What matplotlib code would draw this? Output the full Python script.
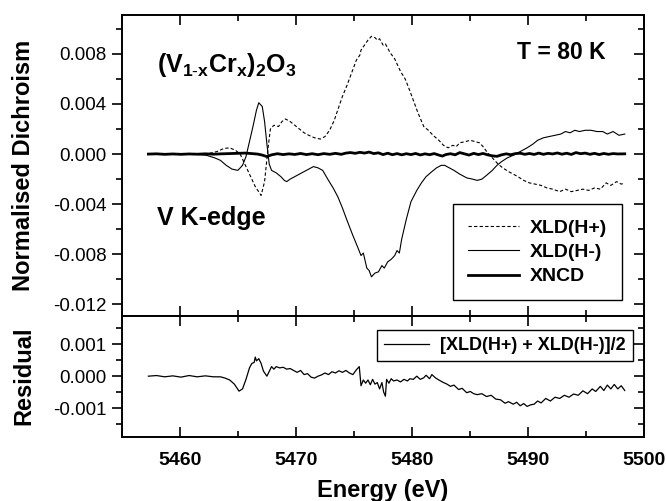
import numpy as np
import matplotlib
matplotlib.use('Agg')
import matplotlib.pyplot as plt
from matplotlib.ticker import FixedLocator, MultipleLocator, FormatStrFormatter

plt.rcParams['font.family'] = 'Liberation Sans'
plt.rcParams['mathtext.fontset'] = 'custom'
plt.rcParams['mathtext.rm'] = 'Liberation Sans'
plt.rcParams['mathtext.bf'] = 'Liberation Sans:bold'

# XLD(H+)  (energy in eV, normalised dichroism)
xldp_e = [5457.3, 5458.5, 5459.5, 5460.5, 5461.5, 5462.5, 5463.2, 5463.8, 5464.3, 5464.8,
          5465.2, 5465.6, 5466.0, 5466.5, 5467.0, 5467.3, 5467.6, 5467.8, 5468.1, 5468.5,
          5468.8, 5469.1, 5469.5, 5469.9, 5470.3, 5470.7, 5471.1, 5471.6, 5472.1, 5472.5,
          5472.9, 5473.3, 5473.7, 5474.0, 5474.4, 5474.8, 5475.2, 5475.5, 5475.6, 5475.9,
          5476.2, 5476.5, 5476.8, 5477.0, 5477.2, 5477.5, 5477.7, 5478.1, 5478.5, 5479.0,
          5479.4, 5479.7, 5480.1, 5480.5, 5481.0, 5481.4, 5481.8, 5482.3, 5482.7, 5483.1,
          5483.5, 5483.8, 5484.1, 5484.6, 5485.0, 5485.4, 5485.8, 5486.1, 5486.5, 5487.0,
          5487.4, 5487.8, 5488.3, 5488.7, 5489.1, 5489.6, 5490.1, 5490.6, 5491.1, 5491.6,
          5492.1, 5492.7, 5493.2, 5493.7, 5494.2, 5494.7, 5495.2, 5495.7, 5496.2, 5496.7,
          5497.1, 5497.6, 5498.0, 5498.3]
xldp_v = [0.0, 0.00002, -0.00002, 0.00002, 0.0, 0.00005, 0.0002, 0.00045, 0.0005, 0.0003,
          0.0, -0.0008, -0.0016, -0.0026, -0.0033, -0.0022, 0.0005, 0.0020, 0.0023, 0.0022,
          0.0026, 0.0028, 0.0026, 0.0023, 0.0020, 0.0017, 0.0015, 0.0013, 0.0012, 0.0014,
          0.0019, 0.0027, 0.0038, 0.0046, 0.0055, 0.0065, 0.0075, 0.0079, 0.0083, 0.0087,
          0.0091, 0.0094, 0.0093, 0.0091, 0.0092, 0.0087, 0.0088, 0.0081, 0.0076, 0.0066,
          0.0060, 0.0053, 0.0043, 0.0033, 0.0022, 0.0019, 0.0015, 0.0011, 0.0007, 0.0005,
          0.0007, 0.0006, 0.0009, 0.0010, 0.0011, 0.0010, 0.0009, 0.0006, 0.0001, -0.0004,
          -0.0008, -0.0011, -0.0014, -0.0016, -0.0018, -0.0021, -0.0023, -0.0024, -0.0025, -0.0027,
          -0.0028, -0.0030, -0.0028, -0.0030, -0.0029, -0.0028, -0.0029, -0.0027, -0.0028, -0.0023,
          -0.0025, -0.0022, -0.0024, -0.0023]

# XLD(H-)
xldm_e = [5457.3, 5458.5, 5459.5, 5460.5, 5461.5, 5462.3, 5463.0, 5463.5, 5464.0, 5464.5,
          5465.0, 5465.4, 5465.7, 5466.0, 5466.3, 5466.6, 5466.8, 5467.1, 5467.3, 5467.5,
          5467.7, 5467.9, 5468.3, 5468.7, 5469.0, 5469.2, 5469.5, 5469.9, 5470.3, 5470.7,
          5471.1, 5471.5, 5471.9, 5472.3, 5472.8, 5473.2, 5473.6, 5474.0, 5474.4, 5474.9,
          5475.3, 5475.6, 5475.8, 5476.1, 5476.3, 5476.5, 5476.8, 5477.1, 5477.4, 5477.6,
          5477.9, 5478.2, 5478.5, 5478.7, 5478.9, 5479.1, 5479.5, 5479.9, 5480.4, 5480.8,
          5481.2, 5481.7, 5482.1, 5482.5, 5482.8, 5483.2, 5483.6, 5484.1, 5484.7, 5485.2,
          5485.6, 5486.0, 5486.4, 5486.9, 5487.3, 5487.7, 5488.2, 5488.7, 5489.3, 5489.9,
          5490.4, 5490.8, 5491.3, 5491.8, 5492.3, 5492.8, 5493.2, 5493.6, 5494.0, 5494.4,
          5494.9, 5495.4, 5495.9, 5496.4, 5496.8, 5497.3, 5497.8, 5498.3]
xldm_v = [0.0, -0.00002, 0.00002, -0.00001, -0.00003, -0.0001, -0.0003, -0.0005, -0.0009, -0.0012,
          -0.0013, -0.0009, -0.0002, 0.0010, 0.0022, 0.0035, 0.0041, 0.0038, 0.0026, 0.0008,
          -0.0008, -0.0013, -0.0015, -0.0018, -0.0021, -0.0022, -0.0020, -0.0018, -0.0016, -0.0014,
          -0.0012, -0.0010, -0.0011, -0.0013, -0.0021, -0.0027, -0.0034, -0.0043, -0.0053, -0.0065,
          -0.0074, -0.0081, -0.0079, -0.0091, -0.0093, -0.0098, -0.0095, -0.0094, -0.0089, -0.0091,
          -0.0086, -0.0084, -0.0081, -0.0077, -0.0079, -0.0068, -0.0052, -0.0038, -0.0029, -0.0023,
          -0.0018, -0.0014, -0.0011, -0.0009, -0.0009, -0.0011, -0.0013, -0.0016, -0.0019, -0.0020,
          -0.0021, -0.0020, -0.0017, -0.0013, -0.0009, -0.0006, -0.0003, -0.0001, 0.0002, 0.0005,
          0.0008, 0.0011, 0.0013, 0.0014, 0.0015, 0.0016, 0.0018, 0.0017, 0.0019, 0.0018,
          0.0019, 0.0019, 0.0018, 0.0018, 0.0016, 0.0018, 0.0015, 0.0016]

# XNCD
xncd_e = [5457.3, 5458.0, 5458.7, 5459.4, 5460.1, 5460.8, 5461.5, 5462.2, 5462.9, 5463.6,
          5464.3, 5465.0, 5465.6, 5466.2, 5466.7, 5467.1, 5467.5, 5467.9, 5468.4, 5468.9,
          5469.4, 5469.9, 5470.4, 5470.9, 5471.4, 5471.9, 5472.4, 5472.9, 5473.4, 5473.9,
          5474.3, 5474.7, 5475.1, 5475.5, 5475.9, 5476.3, 5476.7, 5477.1, 5477.5, 5477.9,
          5478.3, 5478.7, 5479.1, 5479.5, 5479.9, 5480.3, 5480.7, 5481.1, 5481.5, 5481.9,
          5482.3, 5482.6, 5482.9, 5483.3, 5483.7, 5484.1, 5484.5, 5484.9, 5485.3, 5485.7,
          5486.1, 5486.5, 5486.9, 5487.3, 5487.7, 5488.1, 5488.5, 5488.9, 5489.3, 5489.7,
          5490.1, 5490.5, 5490.9, 5491.3, 5491.7, 5492.1, 5492.5, 5492.9, 5493.3, 5493.7,
          5494.1, 5494.5, 5494.9, 5495.3, 5495.7, 5496.1, 5496.5, 5496.9, 5497.3, 5497.7,
          5498.3]
xncd_v = [0.0, 0.00002, -0.00002, 0.00001, -0.00002, 0.00001, -0.00001, 0.00002, -0.00001, 0.00002,
          0.00004, 0.00006, 0.00008, 0.00004, 0.0, -0.00008, -0.0002, -0.00006, 0.00003, -0.00004,
          0.00002, -0.00003, 0.00005, -0.00004, 0.00003, -0.00005, 0.00004, -0.00002, 0.00006, -0.00002,
          0.00008, 0.00012, 0.00006, 0.00014, 0.00008, 0.00016, 0.00004, 0.0001, -0.00004, 0.00007,
          -0.00005, 0.00004, -0.00006, 0.00003, -0.00004, 0.00005, -0.00007, 0.00002, -0.00005, 0.00004,
          -0.00008, -0.00016, -0.00004, 0.00003, -0.00006, 0.00012, 0.00002, -0.00008, 0.00006, -0.00004,
          0.00005, -0.00006, -0.00014, -0.00018, -0.00006, 0.00002, -0.00005, 0.00004, 0.00007, -0.00002,
          0.00005, -0.00003, 0.00008, -0.00002, 0.00006, 0.00001, 0.00009, -0.00001, 0.00007, -0.00003,
          0.00012, 0.00003, 0.00008, -0.00002, 0.00006, -0.00004, 0.00005, -0.00002, 0.00004, 0.00001,
          0.00002]

# residual [XLD(H+) + XLD(H-)]/2
res_e = [5457.3, 5458.0, 5458.7, 5459.4, 5460.1, 5460.8, 5461.5, 5462.2, 5462.9, 5463.5,
         5463.9, 5464.3, 5464.7, 5465.1, 5465.4, 5465.7, 5466.0, 5466.2, 5466.4, 5466.5,
         5466.6, 5466.8, 5467.0, 5467.2, 5467.5, 5467.7, 5467.9, 5468.1, 5468.3, 5468.6,
         5468.9, 5469.2, 5469.5, 5469.8, 5470.1, 5470.4, 5470.7, 5471.0, 5471.3, 5471.6,
         5471.9, 5472.2, 5472.5, 5472.8, 5473.1, 5473.4, 5473.7, 5474.0, 5474.3, 5474.6,
         5474.9, 5475.2, 5475.45, 5475.6, 5475.8, 5476.0, 5476.2, 5476.4, 5476.6, 5476.8,
         5477.0, 5477.2, 5477.4, 5477.55, 5477.7, 5477.8, 5478.0, 5478.2, 5478.4, 5478.7,
         5479.0, 5479.3, 5479.6, 5479.8, 5480.1, 5480.4, 5480.7, 5481.0, 5481.2, 5481.5,
         5481.7, 5482.0, 5482.3, 5482.7, 5483.0, 5483.3, 5483.6, 5484.0, 5484.3, 5484.7,
         5485.0, 5485.3, 5485.6, 5486.0, 5486.4, 5486.8, 5487.2, 5487.6, 5488.0, 5488.3,
         5488.7, 5489.0, 5489.3, 5489.6, 5489.9, 5490.2, 5490.5, 5490.8, 5491.1, 5491.5,
         5491.9, 5492.3, 5492.7, 5493.1, 5493.5, 5493.9, 5494.3, 5494.7, 5495.1, 5495.5,
         5495.8, 5496.2, 5496.5, 5496.8, 5497.1, 5497.4, 5497.7, 5498.0, 5498.3]
res_v = [0.0, 0.00002, -0.00002, 0.00001, -0.00003, 0.00002, -0.00002, 0.00001, -0.00002, -0.00002,
         -0.00006, -0.00012, -0.00025, -0.00047, -0.0004, -0.0001, 0.00026, 0.0004, 0.00043, 0.0006,
         0.00048, 0.00055, 0.0004, 0.00016, 0.0, 0.00015, 0.0003, 0.00022, 0.0003, 0.00026,
         0.00028, 0.00022, 0.00024, 0.00018, 0.00012, 0.00018, 0.00005, 0.00008, -0.00003, -0.00006,
         0.0, 0.00004, 0.0001, 0.00005, 0.00014, 0.0001, 0.00017, 0.00012, 0.00018, 0.0001,
         0.00005, 0.0002, 0.0003, -0.0003, -0.00012, -0.00022, -0.00012, -0.00027, -0.0001, -0.00025,
         -0.0002, -0.0004, -0.0002, -0.0005, -0.00063, -0.0001, -0.00022, -0.00008, -0.00015, -0.00012,
         -0.00018, -0.0001, -0.00015, -0.00008, -0.0001, 0.0, -0.0001, -0.00005, 0.00003, -0.00008,
         0.00005, -0.00005, -0.00012, -0.0002, -0.00025, -0.00032, -0.00028, -0.00042, -0.00038, -0.00052,
         -0.00048, -0.00055, -0.00058, -0.00055, -0.00064, -0.0006, -0.00072, -0.00074, -0.00085, -0.0008,
         -0.00088, -0.00082, -0.00093, -0.00086, -0.00095, -0.0009, -0.00088, -0.00078, -0.00084, -0.0007,
         -0.00078, -0.00066, -0.0007, -0.0006, -0.00066, -0.00056, -0.0006, -0.00046, -0.00055, -0.0004,
         -0.00048, -0.00032, -0.00045, -0.00028, -0.0004, -0.00026, -0.0004, -0.0003, -0.00045]

x_ticks = [5460, 5470, 5480, 5490, 5500]
top_yticks = [-0.012, -0.008, -0.004, 0.0, 0.004, 0.008]
res_yticks = [-0.001, 0.0, 0.001]


def style_axis(ax, yticks, yminor, yfmt):
    ax.set_xlim(5455, 5500)
    ax.xaxis.set_major_locator(FixedLocator(x_ticks))
    ax.xaxis.set_minor_locator(MultipleLocator(5))
    ax.yaxis.set_major_locator(FixedLocator(yticks))
    ax.yaxis.set_minor_locator(MultipleLocator(yminor))
    ax.yaxis.set_major_formatter(FormatStrFormatter(yfmt))
    ax.tick_params(axis='x', which='both', direction='in', top=True, bottom=True, width=1.2)
    ax.tick_params(axis='x', which='major', length=7)
    ax.tick_params(axis='x', which='minor', length=4.5)
    ax.tick_params(axis='y', which='both', direction='out', left=True, right=False,
                   width=1.2, labelsize=13.5, pad=4)
    ax.tick_params(axis='y', which='major', length=7)
    ax.tick_params(axis='y', which='minor', length=4.5)
    for s in ax.spines.values():
        s.set_linewidth(1.4)
    # right side ticks point inward
    sec = ax.secondary_yaxis('right')
    sec.yaxis.set_major_locator(FixedLocator(yticks))
    sec.yaxis.set_minor_locator(MultipleLocator(yminor))
    sec.tick_params(axis='y', which='both', direction='in', labelright=False, width=1.2)
    sec.tick_params(axis='y', which='major', length=7)
    sec.tick_params(axis='y', which='minor', length=4.5)
    sec.spines['right'].set_linewidth(1.4)


fig = plt.figure(figsize=(6.66, 5.01), dpi=100)
ax1 = fig.add_axes([0.1827, 0.3699, 0.785, 0.6001])
ax2 = fig.add_axes([0.1827, 0.1284, 0.785, 0.2415])

ax1.plot(xldp_e, xldp_v, color='black', lw=0.8, ls=(0, (3, 2)), label='XLD(H+)')
ax1.plot(xldm_e, xldm_v, color='black', lw=0.8, label='XLD(H-)')
ax1.plot(xncd_e, xncd_v, color='black', lw=2.0, label='XNCD')
ax1.set_ylim(-0.0129, 0.0111)
style_axis(ax1, top_yticks, 0.002, '%.3f')
ax1.tick_params(axis='x', labelbottom=False)

leg1 = ax1.legend(loc='lower right', bbox_to_anchor=(0.957, 0.052), borderaxespad=0,
                  fancybox=False, edgecolor='black', framealpha=1,
                  prop={'weight': 'bold', 'size': 14}, handlelength=2.6,
                  handletextpad=0.6, labelspacing=0.35, borderpad=0.75)
leg1.get_frame().set_linewidth(1.0)

ax1.text(0.0675, 0.81, r'$\mathbf{(V_{1\text{-}x}Cr_{x})_{2}O_{3}}$', transform=ax1.transAxes,
         fontsize=18, ha='left', va='baseline')
ax1.text(0.926, 0.854, 'T = 80 K', transform=ax1.transAxes, fontsize=16.5,
         fontweight='bold', ha='right', va='baseline')
ax1.text(0.0675, 0.30, 'V K-edge', transform=ax1.transAxes, fontsize=18,
         fontweight='bold', ha='left', va='baseline')
ax1.set_ylabel('Normalised Dichroism', fontsize=17, fontweight='bold')
ax1.yaxis.set_label_coords(-0.165, 0.5)

ax2.plot(res_e, res_v, color='black', lw=0.9, label='[XLD(H+) + XLD(H-)]/2')
ax2.set_ylim(-0.0019, 0.0019)
style_axis(ax2, res_yticks, 0.0005, '%.3f')
ax2.tick_params(axis='x', labelsize=14, pad=11)
for lab in ax2.get_xticklabels():
    lab.set_fontweight('bold')

leg2 = ax2.legend(loc='upper right', bbox_to_anchor=(0.978, 0.882), borderaxespad=0,
                  fancybox=False, edgecolor='black', framealpha=1,
                  prop={'weight': 'bold', 'size': 13}, handlelength=2.5,
                  handletextpad=0.6, borderpad=0.4)
leg2.get_frame().set_linewidth(1.0)

ax2.set_ylabel('Residual', fontsize=17, fontweight='bold')
ax2.yaxis.set_label_coords(-0.165, 0.5)
ax2.set_xlabel('Energy (eV)', fontsize=17, fontweight='bold', labelpad=7)

fig.savefig('out.png', dpi=100)
